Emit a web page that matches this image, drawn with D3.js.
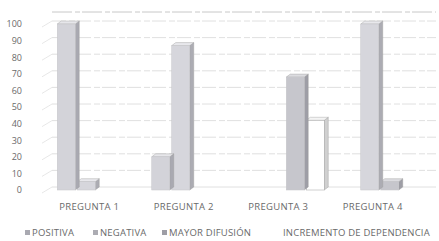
<!DOCTYPE html>
<html>
<head>
<meta charset="utf-8">
<script src="https://cdn.jsdelivr.net/npm/d3@7"></script>
<style>
  body { margin: 0; background: #fff; }
  text { font-family: "Open Sans", sans-serif; fill: #6a6a6a; }
</style>
</head>
<body>
<div id="chart"></div>
<script>
// data
var categories = ["PREGUNTA 1", "PREGUNTA 2", "PREGUNTA 3", "PREGUNTA 4"];
var seriesNames = ["POSITIVA", "NEGATIVA", "MAYOR DIFUSIÓN", "INCREMENTO DE DEPENDENCIA"];
var positiva = [100, 20, 0, 0];
var negativa = [5, 87, 0, 100];
var mayorDifusion = [0, 0, 68, 5];
var incremento = [0, 0, 42, 0];
var yTicks = [0, 10, 20, 30, 40, 50, 60, 70, 80, 90, 100];

var seriesValues = [positiva, negativa, mayorDifusion, incremento];
var colors = ["#d3d3d9", "#d6d6dc", "#c6c6cc", "#ffffff"];
var sideColors = ["#a9a9b1", "#acacb3", "#9e9ea6", "#d0d0d0"];
var topColors = ["#e6e6ea", "#e8e8ec", "#dcdce0", "#f4f4f4"];

var W = 439, H = 241;
var svg = d3.select("#chart").append("svg")
    .attr("width", W)
    .attr("height", H);

var x = d3.scaleBand()
    .domain(categories)
    .range([42, 420]);

// series slots inside one category
var slot = d3.scaleBand()
    .domain(d3.range(seriesNames.length))
    .range([-40, 40]);

var y = d3.scaleLinear()
    .domain([0, 100])
    .range([190, 24]);

var depthX = 4, depthY = -3, shift = 8;

// gridlines (back wall) and little floor ticks
var grid = svg.append("g");
yTicks.forEach(function (t) {
    grid.append("line")
        .attr("x1", 52).attr("x2", 436)
        .attr("y1", y(t) + depthY).attr("y2", y(t) + depthY)
        .attr("stroke", "#d8d8d8")
        .attr("stroke-width", 0.8)
        .attr("stroke-dasharray", t == 0 ? null : "14,3,6,2");
    grid.append("line")
        .attr("x1", 42).attr("x2", 52)
        .attr("y1", y(t) + 3).attr("y2", y(t) + depthY)
        .attr("stroke", "#dcdcdc")
        .attr("stroke-width", 0.7);
});
grid.append("line")
    .attr("x1", 52).attr("x2", 436)
    .attr("y1", 12).attr("y2", 12)
    .attr("stroke", "#c8c8c8")
    .attr("stroke-dasharray", "20,3,5,2");

// y axis labels
var yAxis = svg.append("g")
    .attr("transform", "translate(24,0)")
    .call(d3.axisLeft(y).tickValues(yTicks).tickSize(0).tickPadding(2));
yAxis.select(".domain").remove();
yAxis.selectAll("text")
    .style("font-size", "9px")
    .style("font-family", "'Open Sans', sans-serif")
    .attr("fill", "#555");

// bars, drawn right to left so the left bar's side sits in front
var bars = svg.append("g");
categories.forEach(function (c, ci) {
    var cx = x(c) + x.bandwidth() / 2 + shift;
    d3.range(seriesNames.length).reverse().forEach(function (si) {
        var v = seriesValues[si][ci];
        if (!v) return;
        var x0 = cx + slot(si), bw = slot.bandwidth() - 2;
        var yt = y(v), yb = y(0);
        var g = bars.append("g");
        g.append("path")
            .attr("d", "M" + (x0 + bw) + "," + yb +
                " L" + (x0 + bw + depthX) + "," + (yb + depthY) +
                " L" + (x0 + bw + depthX) + "," + (yt + depthY) +
                " L" + (x0 + bw) + "," + yt + " Z")
            .attr("fill", sideColors[si])
            .attr("stroke", "#9a9a9a")
            .attr("stroke-width", 0.4);
        g.append("path")
            .attr("d", "M" + x0 + "," + yt +
                " L" + (x0 + depthX) + "," + (yt + depthY) +
                " L" + (x0 + bw + depthX) + "," + (yt + depthY) +
                " L" + (x0 + bw) + "," + yt + " Z")
            .attr("fill", topColors[si])
            .attr("stroke", "#9a9a9a")
            .attr("stroke-width", 0.4);
        g.append("rect")
            .attr("x", x0)
            .attr("y", yt)
            .attr("width", bw)
            .attr("height", yb - yt)
            .attr("fill", colors[si])
            .attr("stroke", si == 3 ? "#a0a0a0" : "#c4c4c8")
            .attr("stroke-width", 0.5);
    });
});

// category labels
svg.append("g").selectAll("text")
    .data(categories)
    .enter()
    .append("text")
    .attr("x", function (d) { return x(d) + x.bandwidth() / 2; })
    .attr("y", 210)
    .attr("text-anchor", "middle")
    .style("font-size", "9.5px")
    .style("letter-spacing", "0.3px")
    .text(function (d) { return d; });

// legend
var legendX = [25, 93, 162, 276];
var legend = svg.append("g").selectAll("g")
    .data(seriesNames)
    .enter()
    .append("g")
    .attr("transform", function (d, i) { return "translate(" + legendX[i] + ",236)"; });
legend.append("rect")
    .attr("x", 0).attr("y", -6)
    .attr("width", 5).attr("height", 5)
    .attr("fill", function (d, i) { return i == 3 ? "#fff" : sideColors[i]; });
legend.append("text")
    .attr("x", 7)
    .attr("y", 0)
    .style("font-size", "9.5px")
    .style("letter-spacing", "0.2px")
    .text(function (d) { return d; });
</script>
</body>
</html>
